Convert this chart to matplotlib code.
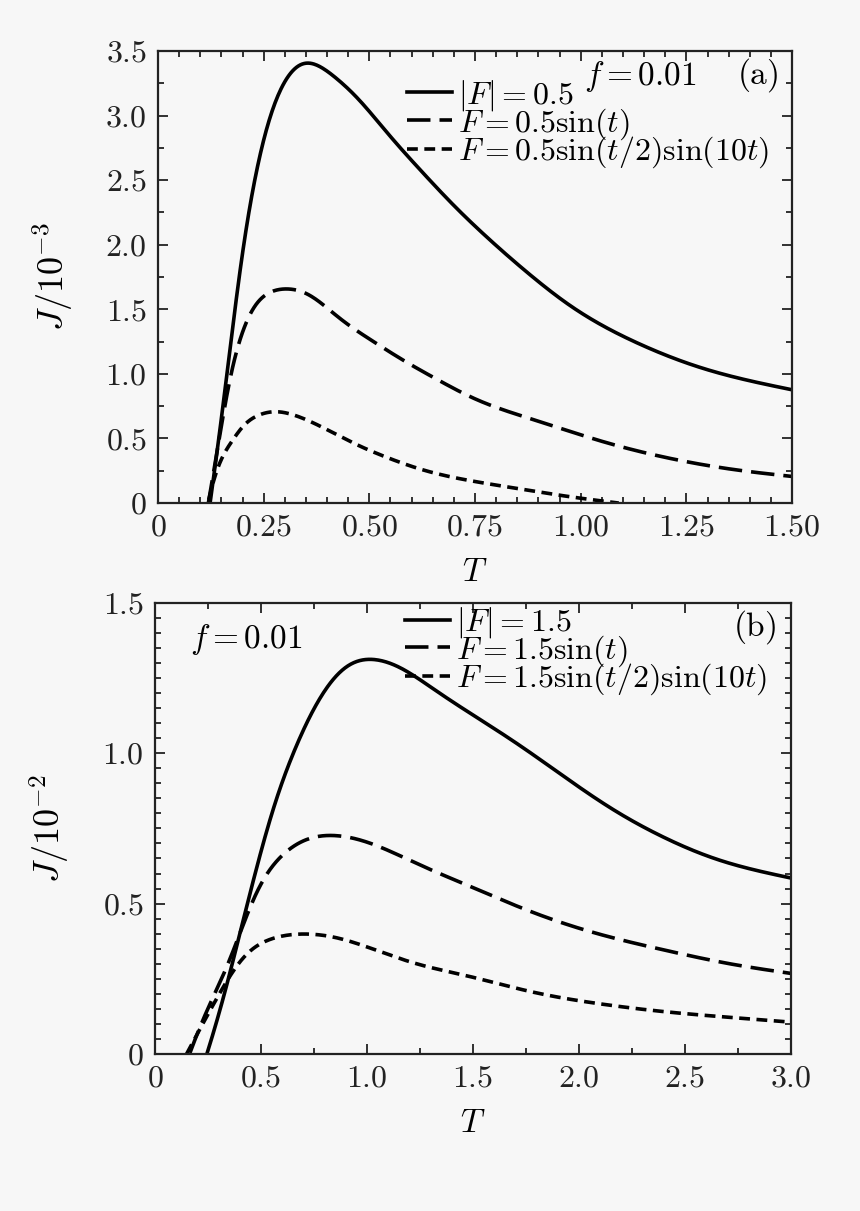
import numpy as np
import matplotlib
matplotlib.use('Agg')
from matplotlib import pyplot as plt
from matplotlib.ticker import MultipleLocator, FuncFormatter

# Panel (a): f = 0.01, |F| = 0.5
Ta_solid = [0.123, 0.151, 0.175, 0.198, 0.222, 0.245, 0.269, 0.296, 0.343, 0.379,
            0.418, 0.465, 0.544, 0.623, 0.701, 0.748, 0.815, 0.894, 0.972, 1.13,
            1.287, 1.50]
Ja_solid = [0.0, 0.67, 1.32, 1.91, 2.40, 2.76, 3.04, 3.25, 3.41, 3.39,
            3.30, 3.16, 2.86, 2.57, 2.30, 2.15, 1.95, 1.73, 1.535, 1.245,
            1.045, 0.877]
Ta_dash = [0.119, 0.143, 0.167, 0.190, 0.222, 0.261, 0.308, 0.348, 0.426, 0.505,
           0.583, 0.662, 0.744, 0.894, 1.051, 1.208, 1.365, 1.50]
Ja_dash = [0.0, 0.46, 0.93, 1.24, 1.50, 1.63, 1.66, 1.63, 1.44, 1.26,
           1.10, 0.954, 0.815, 0.64, 0.477, 0.348, 0.258, 0.206]
Ta_dot = [0.12, 0.135, 0.167, 0.198, 0.229, 0.273, 0.324, 0.387, 0.465, 0.544,
          0.623, 0.744, 0.855, 0.972, 1.09]
Ja_dot = [0.0, 0.23, 0.44, 0.59, 0.67, 0.71, 0.68, 0.59, 0.46, 0.35,
          0.26, 0.17, 0.11, 0.05, 0.0]

# Panel (b): f = 0.01, |F| = 1.5
Tb_solid = [0.243, 0.322, 0.40, 0.479, 0.557, 0.636, 0.730, 0.84, 0.92, 1.004,
            1.153, 1.31, 1.475, 1.695, 1.93, 2.166, 2.40, 2.637, 3.0]
Jb_solid = [0.0, 0.18, 0.40, 0.62, 0.82, 0.975, 1.125, 1.25, 1.30, 1.315,
            1.287, 1.215, 1.138, 1.038, 0.922, 0.81, 0.72, 0.65, 0.585]
Tb_dash = [0.165, 0.243, 0.322, 0.40, 0.479, 0.573, 0.683, 0.84, 0.997, 1.232,
           1.46, 1.774, 2.087, 2.40, 2.71, 3.0]
Jb_dash = [0.0, 0.146, 0.257, 0.40, 0.545, 0.645, 0.706, 0.728, 0.706, 0.634,
           0.565, 0.473, 0.40, 0.346, 0.30, 0.268]
Tb_dot = [0.149, 0.243, 0.322, 0.40, 0.526, 0.698, 0.84, 0.997, 1.232, 1.46,
          1.774, 2.087, 2.40, 2.71, 3.0]
Jb_dot = [0.0, 0.124, 0.224, 0.312, 0.379, 0.40, 0.39, 0.357, 0.30, 0.262,
          0.207, 0.168, 0.141, 0.122, 0.106]

labels_a = [r'$|F|=0.5$', r'$F=0.5\sin(t)$', r'$F=0.5\sin(t/2)\sin(10t)$']
labels_b = [r'$|F|=1.5$', r'$F=1.5\sin(t)$', r'$F=1.5\sin(t/2)\sin(10t)$']

plt.rcParams['mathtext.fontset'] = 'cm'
plt.rcParams['font.family'] = 'serif'
plt.rcParams['font.serif'] = ['cmr10']
plt.rcParams['axes.unicode_minus'] = False

bg = '#f7f7f7'
dash_long = (0, (6.5, 2.5))
dash_short = (0, (3.0, 1.8))


def smooth(x, y, s):
    # natural cubic spline through the read-off points,
    # then a light local-linear smoothing (width s) to remove reading jitter
    x = np.asarray(x, float)
    y = np.asarray(y, float)
    n = len(x)
    h = np.diff(x)
    d = np.diff(y) / h
    A = np.zeros((n, n))
    r = np.zeros(n)
    A[0, 0] = 1.0
    A[-1, -1] = 1.0
    for i in range(1, n - 1):
        A[i, i-1] = h[i-1]
        A[i, i] = 2*(h[i-1] + h[i])
        A[i, i+1] = h[i]
        r[i] = 6*(d[i] - d[i-1])
    M = np.linalg.solve(A, r)
    xx = np.linspace(x[0], x[-1], 600)
    i = np.clip(np.searchsorted(x, xx) - 1, 0, n - 2)
    a = x[i+1] - xx
    b = xx - x[i]
    hi = h[i]
    yy = (M[i]*a**3 + M[i+1]*b**3)/(6*hi) \
        + (y[i]/hi - M[i]*hi/6)*a + (y[i+1]/hi - M[i+1]*hi/6)*b

    dx = xx[None, :] - xx[:, None]
    w = np.exp(-0.5*(dx/s)**2)
    s0 = w.sum(1)
    s1 = (w*dx).sum(1)
    s2 = (w*dx**2).sum(1)
    t0 = (w*yy[None, :]).sum(1)
    t1 = (w*dx*yy[None, :]).sum(1)
    ys = (s2*t0 - s1*t1) / (s0*s2 - s1**2)
    return xx, ys


def fmt(dec):
    def f(v, pos):
        if abs(v) < 1e-9:
            return r'$0$'
        return r'$%.*f$' % (dec, v)
    return FuncFormatter(f)


def style_axes(ax, xmaj, xmin, ymaj, ymin, xdec, ydec):
    ax.set_facecolor(bg)
    ax.xaxis.set_major_locator(MultipleLocator(xmaj))
    ax.xaxis.set_minor_locator(MultipleLocator(xmin))
    ax.yaxis.set_major_locator(MultipleLocator(ymaj))
    ax.yaxis.set_minor_locator(MultipleLocator(ymin))
    ax.xaxis.set_major_formatter(fmt(xdec))
    ax.yaxis.set_major_formatter(fmt(ydec))
    ax.tick_params(which='both', direction='in', top=True, right=True,
                   width=1.3, labelsize=23, colors='#222222')
    ax.tick_params(which='major', length=7, pad=8)
    ax.tick_params(which='minor', length=4)
    for s in ax.spines.values():
        s.set_linewidth(1.6)
        s.set_color('#222222')


leg_kw = dict(loc='upper left', frameon=False, fontsize=23,
              handlelength=1.4, handletextpad=0.2, labelspacing=-0.22,
              borderaxespad=0, borderpad=0)

fig = plt.figure(figsize=(8.6, 12.11), dpi=100, facecolor=bg)
ax1 = fig.add_axes([0.1837, 0.5846, 0.7373, 0.3733])
ax2 = fig.add_axes([0.1802, 0.1296, 0.7396, 0.3727])

# Panel (a)
sa = 0.014
ax1.plot(*smooth(Ta_solid, Ja_solid, sa), 'k-', lw=2.6, label=labels_a[0])
ax1.plot(*smooth(Ta_dash, Ja_dash, sa), 'k', ls=dash_long, lw=2.6, label=labels_a[1])
ax1.plot(*smooth(Ta_dot, Ja_dot, sa), 'k', ls=dash_short, lw=2.6, label=labels_a[2])
ax1.set_xlim(0, 1.5)
ax1.set_ylim(0, 3.5)
style_axes(ax1, 0.25, 0.05, 0.5, 0.25, 2, 1)
ax1.set_xlabel(r'$T$', fontsize=24, labelpad=12)
ax1.set_ylabel(r'$J/10^{-3}$', fontsize=26, labelpad=22)
ax1.legend(bbox_to_anchor=(0.393, 0.94), **leg_kw)
ax1.text(0.672, 0.925, r'$f=0.01$', transform=ax1.transAxes, fontsize=24)
ax1.text(0.946, 0.947, r'$\mathrm{(a)}$', transform=ax1.transAxes, fontsize=24,
         ha='center', va='center')

# Panel (b)
sb = 0.045
ax2.plot(*smooth(Tb_solid, Jb_solid, sb), 'k-', lw=2.6, label=labels_b[0])
ax2.plot(*smooth(Tb_dash, Jb_dash, sb), 'k', ls=dash_long, lw=2.6, label=labels_b[1])
ax2.plot(*smooth(Tb_dot, Jb_dot, sb), 'k', ls=dash_short, lw=2.6, label=labels_b[2])
ax2.set_xlim(0, 3.0)
ax2.set_ylim(0, 1.5)
style_axes(ax2, 0.5, 0.25, 0.5, 0.05, 1, 1)
ax2.set_xlabel(r'$T$', fontsize=24, labelpad=12)
ax2.set_ylabel(r'$J/10^{-2}$', fontsize=26, labelpad=22)
ax2.legend(bbox_to_anchor=(0.393, 0.994), **leg_kw)
ax2.text(0.055, 0.9, r'$f=0.01$', transform=ax2.transAxes, fontsize=24)
ax2.text(0.942, 0.947, r'$\mathrm{(b)}$', transform=ax2.transAxes, fontsize=24,
         ha='center', va='center')

fig.savefig('out.png', dpi=100, facecolor=bg)
